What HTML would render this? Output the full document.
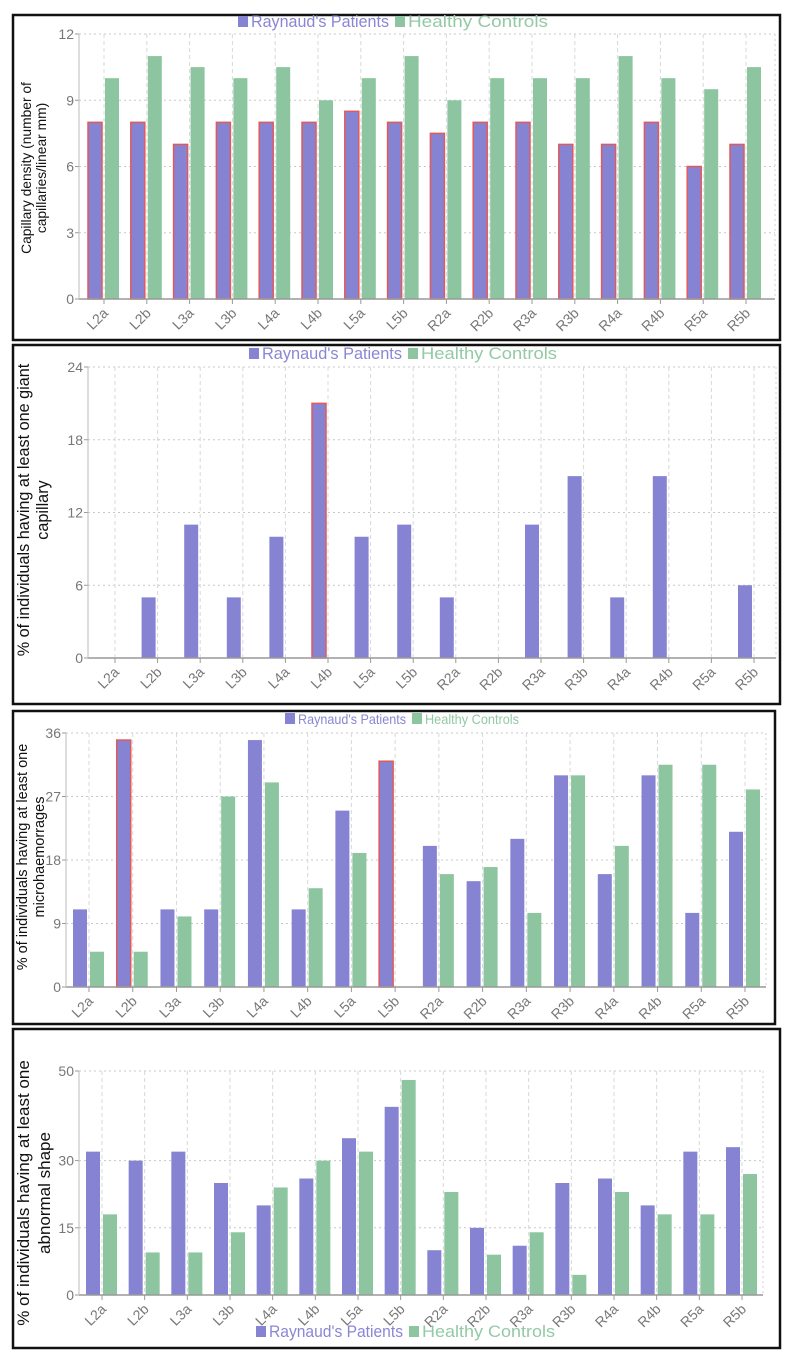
<!DOCTYPE html>
<html><head><meta charset="utf-8">
<style>
html,body{margin:0;padding:0;background:#fff;}
svg{display:block;}
text{font-family:"Liberation Sans",sans-serif;}
</style></head>
<body>
<svg id="chart" width="790" height="1368" viewBox="0 0 790 1368" xmlns="http://www.w3.org/2000/svg"></svg>
<script>
const categories = ["L2a","L2b","L3a","L3b","L4a","L4b","L5a","L5b","R2a","R2b","R3a","R3b","R4a","R4b","R5a","R5b"];
const densityPatients = [8,8,7,8,8,8,8.5,8,7.5,8,8,7,7,8,6,7];
const densityControls = [10,11,10.5,10,10.5,9,10,11,9,10,10,10,11,10,9.5,10.5];
const densityTicks = [0,3,6,9,12];
const giantPatients = [0,5,11,5,10,21,10,11,5,0,11,15,5,15,0,6];
const giantControls = [0,0,0,0,0,0,0,0,0,0,0,0,0,0,0,0];
const giantTicks = [0,6,12,18,24];
const hemoPatients = [11,35,11,11,35,11,25,32,20,15,21,30,16,30,10.5,22];
const hemoControls = [5,5,10,27,29,14,19,0,16,17,10.5,30,20,31.5,31.5,28];
const hemoTicks = [0,9,18,27,36];
const shapePatients = [32,30,32,25,20,26,35,42,10,15,11,25,26,20,32,33];
const shapeControls = [18,9.5,9.5,14,24,30,32,48,23,9,14,4.5,23,18,18,27];
const shapeTicks = [0,15,30,50];

const NS="http://www.w3.org/2000/svg";
const svg=document.getElementById('chart');
function mk(tag,attrs,parent){const e=document.createElementNS(NS,tag);for(const k in attrs)e.setAttribute(k,attrs[k]);(parent||svg).appendChild(e);return e;}

const PURPLE="#8683d2", GREEN="#8cc59f", RED="#e05a5a";

function panel(cfg){
  const g=mk('g',{});
  
  
  const fr=mk('rect',{x:cfg.box[0],y:cfg.box[1],width:cfg.box[2]-cfg.box[0],height:cfg.box[3]-cfg.box[1],fill:'none',stroke:'#111','stroke-width':2.5},g);
  
  
  const maxV=cfg.ticks[cfg.ticks.length-1];
  const y=v=>cfg.y0-(v/maxV)*(cfg.y0-cfg.yTop);
  const step=(cfg.cLast-cfg.cFirst)/(categories.length-1);
  const x=i=>cfg.cFirst+i*step;
  cfg.ticks.forEach(t=>{
    if(t>0){const l=mk('line',{x1:cfg.ax,x2:cfg.right,y1:y(t),y2:y(t),stroke:'#c8c8c8','stroke-dasharray':'2,3'},g);
    
    }
    const tk=mk('line',{x1:cfg.ax-4,x2:cfg.ax,y1:y(t),y2:y(t),stroke:'#999'},g);
    
    
    const tl=mk('text',{x:cfg.ax-5,y:y(t)+5,'text-anchor':'end','font-size':14,fill:'#777'},g);
    tl.textContent=t;
    
    
  });
  categories.forEach((c,i)=>{
    const vl=mk('line',{x1:x(i),x2:x(i),y1:cfg.yTop,y2:cfg.y0,stroke:'#d8d8d8','stroke-dasharray':'4,3'},g);
    
    
    const tk=mk('line',{x1:x(i),x2:x(i),y1:cfg.y0,y2:cfg.y0+5,stroke:'#999'},g);
    
    
    const lx=x(i)+5, ly=cfg.y0+15;
    const t=mk('text',{x:lx,y:ly,'text-anchor':'end','font-size':14,fill:'#777',transform:`rotate(-45 ${lx} ${ly})`},g);
    t.textContent=c;
    
    
  });
  const rl=mk('line',{x1:cfg.right,x2:cfg.right,y1:cfg.yTop,y2:cfg.y0,stroke:'#d0d0d0','stroke-dasharray':'2,3'},g);
  
  
  const bw=14;
  categories.forEach((c,i)=>{
    const pv=cfg.p[i], gv=cfg.c[i];
    if(pv>0){
      const outlined=cfg.outline(i);
      const b=mk('rect',{x:x(i)-16,y:y(pv),width:bw,height:cfg.y0-y(pv),fill:PURPLE,stroke:outlined?RED:'none','stroke-width':outlined?1.5:0},g);
      
      
    }
    if(gv>0){
      const b=mk('rect',{x:x(i)+1,y:y(gv),width:bw,height:cfg.y0-y(gv),fill:GREEN},g);
      
      
    }
  });
  const axl=mk('line',{x1:cfg.ax,x2:cfg.right,y1:cfg.y0,y2:cfg.y0,stroke:'#999','stroke-width':1.5},g);
  
  
  const ayl=mk('line',{x1:cfg.ax,x2:cfg.ax,y1:cfg.yTop,y2:cfg.y0,stroke:'#bbb'},g);
  
  
  const tt=mk('g',{},g);
  
  
  cfg.title.forEach((line,k)=>{
    const tx=cfg.tx[k], ty=cfg.tcy;
    const ts=mk('text',{x:tx,y:ty,'text-anchor':'middle','font-size':cfg.tSize,fill:'#111',transform:`rotate(-90 ${tx} ${ty})`},tt);
    ts.textContent=line;
    
    
  });
  const lg=mk('g',{},g);
  
  
  const lx=cfg.legend[0], ly=cfg.legend[1];
  const s1=mk('rect',{x:lx,y:ly-8,width:10,height:11,fill:PURPLE},lg);
  
  
  const t1=mk('text',{x:lx+13,y:ly+3,'font-size':cfg.lSize,fill:'#8a86d4',textLength:cfg.lw[0],lengthAdjust:'spacingAndGlyphs'},lg);
  t1.textContent="Raynaud's Patients";
  
  
  const gx=lx+cfg.lw[0]+19;
  const s2=mk('rect',{x:gx,y:ly-8,width:10,height:11,fill:GREEN},lg);
  
  
  const t2=mk('text',{x:gx+13,y:ly+3,'font-size':cfg.lSize,fill:'#93c9a5',textLength:cfg.lw[1],lengthAdjust:'spacingAndGlyphs'},lg);
  t2.textContent="Healthy Controls";
  
  
}

panel({name:'capillary-density',box:[13,15,780,340],ax:79,right:775,yTop:34,y0:299,cFirst:104,cLast:746,
  ticks:densityTicks,p:densityPatients,c:densityControls,outline:i=>true,
  title:["Capillary density (number of","capillaries/linear mm)"],tx:[31,46],tcy:168,tSize:13.8,
  legend:[238,24],lSize:17,lw:[138,140]});
panel({name:'giant-capillary',box:[13,345,780,704],ax:88,right:776,yTop:367,y0:658,cFirst:115,cLast:754,
  ticks:giantTicks,p:giantPatients,c:giantControls,outline:i=>i===5,
  title:["% of individuals having at least one giant","capillary"],tx:[29,48],tcy:510,tSize:16.2,
  legend:[249,356],lSize:17,lw:[140,136]});
panel({name:'microhaemorrhages',box:[13,711,775,1024],ax:66,right:766,yTop:733,y0:987,cFirst:89,cLast:745,
  ticks:hemoTicks,p:hemoPatients,c:hemoControls,outline:i=>(i===1||i===7),
  title:["% of individuals having at least one","microhaemorrages"],tx:[27,44],tcy:857,tSize:14.5,
  legend:[285,721],lSize:14,lw:[108,94]});
panel({name:'abnormal-shape',box:[13,1029,780,1348],ax:79,right:763,yTop:1071,y0:1295,cFirst:102,cLast:742,
  ticks:shapeTicks,p:shapePatients,c:shapeControls,outline:i=>false,
  title:["% of individuals having at least one","abnormal shape"],tx:[29,50],tcy:1193,tSize:17,
  legend:[256,1334],lSize:17,lw:[134,133]});
</script>
</body></html>
